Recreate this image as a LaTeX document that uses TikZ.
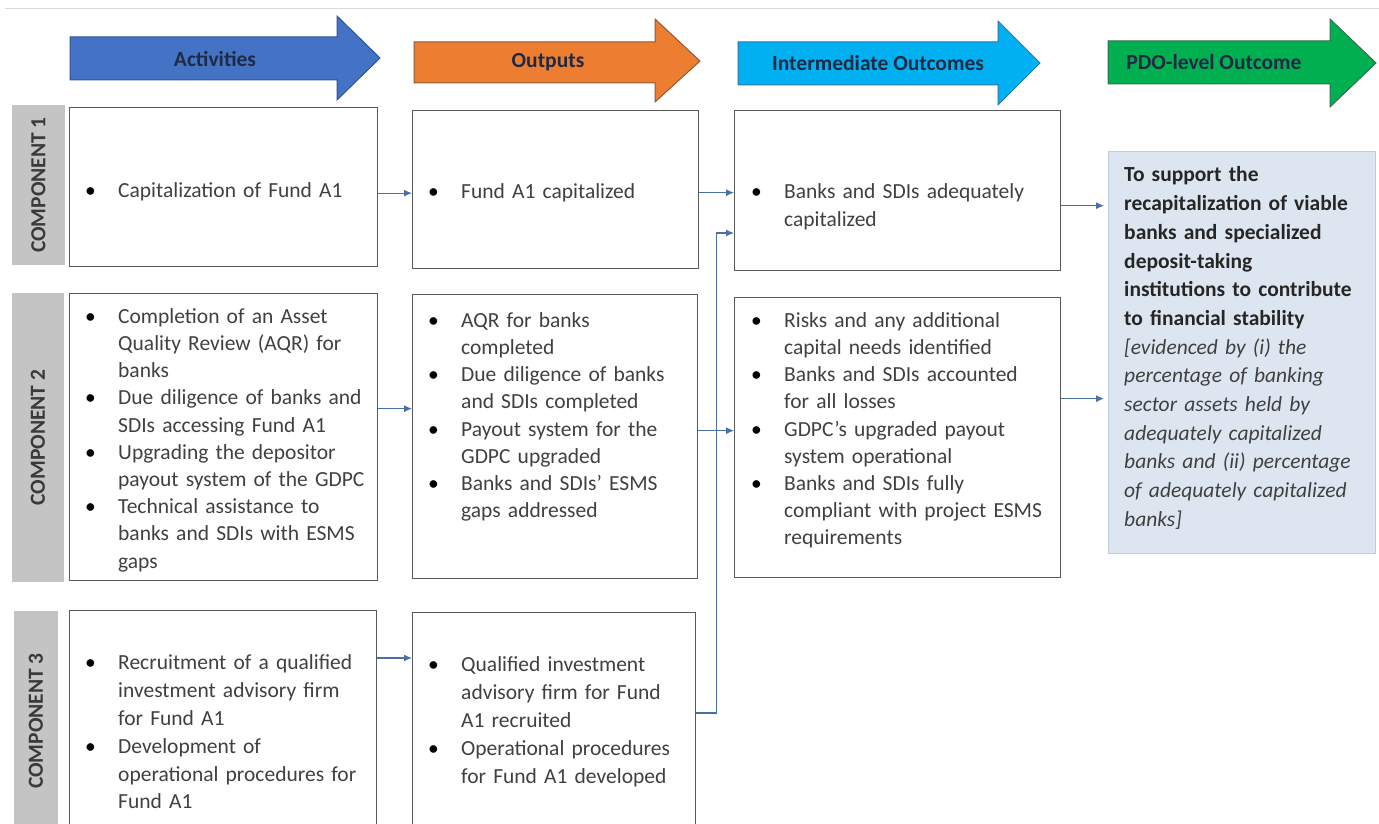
\documentclass[tikz,border=0pt]{standalone}
\usepackage{fontspec}
\setmainfont{Carlito}
\usetikzlibrary{arrows.meta}

\definecolor{actblue}{HTML}{4472C4}
\definecolor{actedge}{HTML}{2F5597}
\definecolor{outorange}{HTML}{ED7D31}
\definecolor{outedge}{HTML}{8C5A3C}
\definecolor{intcyan}{HTML}{00B0F0}
\definecolor{intedge}{HTML}{2E75B6}
\definecolor{pdogreen}{HTML}{00B050}
\definecolor{pdoedge}{HTML}{3A6B55}
\definecolor{hdnavy}{HTML}{1F2A44}
\definecolor{bargray}{HTML}{C4C4C4}
\definecolor{compgray}{HTML}{3A3A3A}
\definecolor{boxgray}{HTML}{5A5A5A}
\definecolor{bodygray}{HTML}{404040}
\definecolor{linkblue}{HTML}{4A6FA5}
\definecolor{goalfill}{HTML}{DDE6F0}
\definecolor{goaledge}{HTML}{C3CCD6}
\definecolor{rulegray}{HTML}{DADADA}

\newenvironment{blist}{\begin{list}{\textbullet}{%
  \setlength{\leftmargin}{33pt}\setlength{\labelsep}{0pt}\setlength{\labelwidth}{33pt}%
  \setlength{\itemsep}{0pt}\setlength{\parsep}{0pt}\setlength{\topsep}{0pt}\setlength{\partopsep}{0pt}%
  \renewcommand{\makelabel}[1]{\color{black}##1\hfil}}}{\end{list}}

\begin{document}
\begin{tikzpicture}[
    x=1pt, y=-1pt,
    hdr/.style={line width=1pt},
    hdlabel/.style={font=\bfseries\fontsize{21.5}{26}\selectfont, text=hdnavy, inner sep=0pt},
    bar/.style={fill=bargray, rotate=90, inner sep=0pt, font=\bfseries\fontsize{21.5}{26}\selectfont, text=compgray},
    box/.style={draw=boxgray, line width=1.3pt, anchor=north west, inner sep=0pt},
    txt/.style={anchor=base west, inner sep=0pt, text width=#1, align=left,
      font=\fontsize{21.5}{27.8}\selectfont, text=bodygray},
    tight/.style={font=\fontsize{21.5}{27.2}\selectfont},
    link/.style={draw=linkblue, line width=1.1pt, -{Latex[length=8pt,width=7pt]}}
]
\useasboundingbox (0,0) rectangle (1379,824);
\clip (0,0) rectangle (1379,824);

\draw[rulegray, line width=1pt] (5,9) -- (1379,9);

% Header arrows
\filldraw[hdr, fill=actblue, draw=actedge] (70,37) -- (337,37) -- (337,16) -- (380,58) -- (337,100) -- (337,80) -- (70,80) -- cycle;
\filldraw[hdr, fill=outorange, draw=outedge] (414,42) -- (655,42) -- (655,19) -- (700,61) -- (655,102) -- (655,83) -- (414,83) -- cycle;
\filldraw[hdr, fill=intcyan, draw=intedge] (738,42) -- (998,42) -- (998,21) -- (1040,63) -- (998,105) -- (998,85) -- (738,85) -- cycle;
\filldraw[hdr, fill=pdogreen, draw=pdoedge] (1108,41) -- (1330,41) -- (1330,19) -- (1376,63) -- (1330,107) -- (1330,84) -- (1108,84) -- cycle;
\node[hdlabel] (hact) at (215,59) {Activities};
\node[hdlabel] (hout) at (548,62) {Outputs};
\node[hdlabel] (hint) at (878,63) {Intermediate Outcomes};
\node[hdlabel] (hpdo) at (1214,62) {PDO-level Outcome};

% Component bars
\node[bar, minimum width=160pt, minimum height=53pt] (comp1) at (38.5,185) {COMPONENT 1};
\node[bar, minimum width=289pt, minimum height=52pt] (comp2) at (38,437.5) {COMPONENT 2};
\node[bar, minimum width=220pt, minimum height=44pt] (comp3) at (36,721) {COMPONENT 3};

% Boxes
\node[box, minimum width=308pt, minimum height=159pt] (act1) at (69,107) {};
\node[box, minimum width=308pt, minimum height=287pt] (act2) at (69,293) {};
\node[box, minimum width=307pt, minimum height=225pt] (act3) at (69,610) {};
\node[box, minimum width=286pt, minimum height=158pt] (out1) at (412,110) {};
\node[box, minimum width=285pt, minimum height=284pt] (out2) at (412,294) {};
\node[box, minimum width=283pt, minimum height=225pt] (out3) at (412,612) {};
\node[box, minimum width=326pt, minimum height=160pt] (int1) at (734,110) {};
\node[box, minimum width=326pt, minimum height=280pt] (int2) at (734,297) {};
\node[box, draw=goaledge, fill=goalfill, line width=1pt, minimum width=267pt, minimum height=402pt] (goal) at (1108,151) {};

% Texts
\node[txt=305pt] (tact1) at (85,170) {\begin{blist}\item Capitalization of Fund A1\end{blist}};
\node[txt=305pt, tight] (tact2) at (85,296) {\begin{blist}
  \item Completion of an Asset\\ Quality Review (AQR) for\\ banks
  \item Due diligence of banks and\\ SDIs accessing Fund A1
  \item Upgrading the depositor\\ payout system of the GDPC
  \item Technical assistance to\\ banks and SDIs with ESMS\\ gaps
\end{blist}};
\node[txt=305pt] (tact3) at (85,642) {\begin{blist}
  \item Recruitment of a qualified\\ investment advisory firm\\ for Fund A1
  \item Development of\\ operational procedures for\\ Fund A1
\end{blist}};
\node[txt=280pt] (tout1) at (428,171) {\begin{blist}\item Fund A1 capitalized\end{blist}};
\node[txt=280pt, tight] (tout2) at (428,300) {\begin{blist}
  \item AQR for banks\\ completed
  \item Due diligence of banks\\ and SDIs completed
  \item Payout system for the\\ GDPC upgraded
  \item Banks and SDIs’ ESMS\\ gaps addressed
\end{blist}};
\node[txt=280pt] (tout3) at (428,644) {\begin{blist}
  \item Qualified investment\\ advisory firm for Fund\\ A1 recruited
  \item Operational procedures\\ for Fund A1 developed
\end{blist}};
\node[txt=320pt] (tint1) at (751,171) {\begin{blist}\item Banks and SDIs adequately\\ capitalized\end{blist}};
\node[txt=320pt, tight] (tint2) at (751,300) {\begin{blist}
  \item Risks and any additional\\ capital needs identified
  \item Banks and SDIs accounted\\ for all losses
  \item GDPC’s upgraded payout\\ system operational
  \item Banks and SDIs fully\\ compliant with project ESMS\\ requirements
\end{blist}};
\node[txt=260pt, font=\fontsize{21.5}{28.7}\selectfont, text=black!85] (tgoal) at (1124,182) {%
  \textbf{To support the\\ recapitalization of viable\\ banks and specialized\\ deposit-taking\\ institutions to contribute\\ to financial stability}\\
  {\itshape\color{bodygray}[evidenced by (i) the\\ percentage of banking\\ sector assets held by\\ adequately capitalized\\ banks and (ii) percentage\\ of adequately capitalized\\ banks]}};

% Connectors
\draw[link] ([yshift=-6pt]act1.east) -- ([yshift=-6pt]act1.east -| out1.west);
\draw[link] ([yshift=28.5pt]act2.east) -- ([yshift=28.5pt]act2.east -| out2.west);
\draw[link] ([yshift=-48pt]act3.north east) -- ([yshift=-48pt]act3.north east -| out3.west);
\draw[link] ([yshift=-3pt]out1.east) -- ([yshift=-3pt]out1.east -| int1.west);
\draw[link] ([yshift=6pt]out2.east) -- ([yshift=6pt]out2.east -| int2.west);
\draw[link] ([yshift=-101pt]out3.north east) -- ++(20,0) |- ([yshift=-123pt]int1.north west);
\draw[link, shorten >=4pt] ([yshift=-15pt]int1.east) -- ([yshift=-15pt]int1.east -| goal.west);
\draw[link, shorten >=4pt] ([yshift=39pt]int2.east) -- ([yshift=39pt]int2.east -| goal.west);

\end{tikzpicture}
\end{document}
